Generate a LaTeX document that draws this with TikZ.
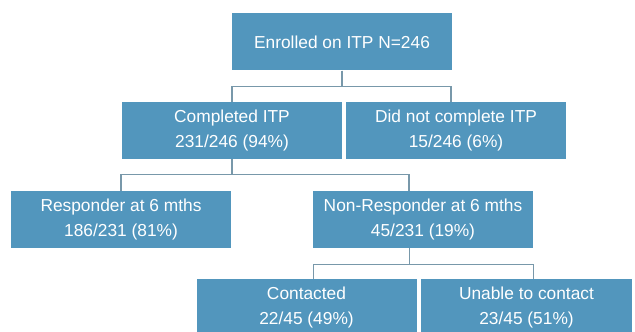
\documentclass[tikz,border=0pt]{standalone}
\usepackage{fontspec}
\setmainfont{Liberation Sans}
\definecolor{boxblue}{RGB}{82,150,189}
\definecolor{linkgrey}{RGB}{120,152,170}

\begin{document}
\begin{tikzpicture}[
    stage/.style={fill=boxblue, text=white, align=center, inner sep=0pt,
      minimum width=6.6cm, minimum height=1.71cm,
      font=\fontsize{14.8}{21.3}\selectfont},
    link/.style={draw=linkgrey, line width=1.1pt}
  ]
      \useasboundingbox (0,0) rectangle (19.05,9.96);
      \node [stage] (enrol) at (10.26,8.70) {Enrolled on ITP N=246};
      \node [stage] (done) at (6.96,6.045) {Completed ITP\\231/246 (94\%)};
      \node [stage] (notdone) at (13.68,6.045) {Did not complete ITP\\15/246 (6\%)};
      \node [stage] (resp) at (3.63,3.375) {Responder at 6 mths\\186/231 (81\%)};
      \node [stage] (nonresp) at (12.69,3.375) {Non-Responder at 6 mths\\45/231 (19\%)};
      \node [stage] (contact) at (9.195,0.735) {Contacted\\22/45 (49\%)};
      \node [stage, minimum width=6.33cm] (nocontact) at (15.795,0.735) {Unable to contact\\23/45 (51\%)};
      \draw [link] (enrol.south) -- ++(0,-.48) -| (done.north);
      \draw [link] (enrol.south) -- ++(0,-.48) -| ([xshift=-.15cm]notdone.north);
      \draw [link] (done.south) -- ++(0,-.45) -| (resp.north);
      \draw [link] (done.south) -- ++(0,-.45) -| ([xshift=-.42cm]nonresp.north);
      \draw [link] ([xshift=-.4cm]nonresp.south) -- ++(0,-.48) -| ([xshift=.22cm]contact.north);
      \draw [link] ([xshift=-.4cm]nonresp.south) -- ++(0,-.48) -| ([xshift=.2cm]nocontact.north);
    \end{tikzpicture}
\end{document}
